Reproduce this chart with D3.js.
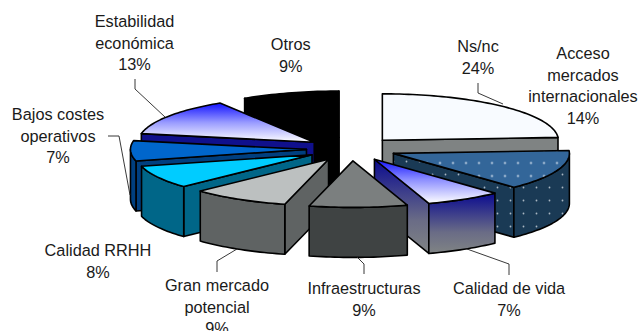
<!DOCTYPE html>
<html><head><meta charset="utf-8">
<script src="https://cdn.jsdelivr.net/npm/d3@7"></script>
<style>html,body{margin:0;padding:0;background:#fff;overflow:hidden}svg{display:block}</style>
</head><body><svg id="c" width="640" height="331"></svg>
<script>
// ---- data ----
const categories = ["Ns/nc","Acceso mercados internacionales","Calidad de vida","Infraestructuras","Gran mercado potencial","Calidad RRHH","Bajos costes operativos","Estabilidad económica","Otros"];
const values = [24,14,7,9,9,8,7,13,9];
const labelLines = [
  ["Ns/nc","24%"],
  ["Acceso","mercados","internacionales","14%"],
  ["Calidad de vida","7%"],
  ["Infraestructuras","9%"],
  ["Gran mercado","potencial","9%"],
  ["Calidad RRHH","8%"],
  ["Bajos costes","operativos","7%"],
  ["Estabilidad","económica","13%"],
  ["Otros","9%"]
];
// ---- layout & style ----
const labelAnchors = [[478,52],[583,59],[509,294],[364,294],[217,291],[98,256],[58,120],[134.5,27],[290.7,50]];
const leaders = [
  [[478,83],[478,93],[503,104]],
  null,
  [[509,275],[509,264],[467,249]],
  [[364,274],[364,264],[357,257]],
  [[217,272],[217,261],[237,249]],
  null,
  [[108,136],[119,136],[130,195]],
  [[135,79],[135,89],[165,117]],
  null
];
const topFills  = ["#f8fbff","url(#dotsTop)","url(#gVidaTop)","#7b7f7f","#bcc0c0","#00ccff","#0066cc","url(#gEstTop)","#000"];
const wallFills = ["#7f8383","url(#dotsWall)","url(#gVidaWall)","#3f4343","#5f6363","#006688","#003f7f","#10108c","#000"];

const cx=351.5, cy=149, rx=176, ry=46.5, depth=50, explode=0.256;
const x = d3.scaleLinear().domain([-1,1]).range([cx-rx,cx+rx]);
const y = d3.scaleLinear().domain([-1,1]).range([cy-ry,cy+ry]);

const svg = d3.select("#c");
const defs = svg.append("defs");
function grad(id, stops){
  const g = defs.append("linearGradient").attr("id",id).attr("x1",0).attr("y1",0).attr("x2",0).attr("y2",1);
  stops.forEach(s=>g.append("stop").attr("offset",s[0]).attr("stop-color",s[1]));
}
grad("gVidaTop",[[0,"#1010ff"],[0.45,"#8a8cff"],[1,"#ffffff"]]);
grad("gVidaWall",[[0,"#0a0a90"],[0.65,"#6a6c86"],[1,"#808484"]]);
grad("gEstTop",[[0,"#1212ff"],[0.5,"#9a9cff"],[1,"#ffffff"]]);
function dots(id,bg,dot,ox,oy){
  const p = defs.append("pattern").attr("id",id).attr("patternUnits","userSpaceOnUse").attr("width",13).attr("height",13).attr("x",ox).attr("y",oy);
  p.append("rect").attr("width",13).attr("height",13).attr("fill",bg);
  p.append("circle").attr("cx",6.5).attr("cy",6.5).attr("r",0.9).attr("fill",dot);
}
dots("dotsTop","#336699","#f4f8ff",4.5,0.5);
dots("dotsWall","#1a3a55","#a9b6c2",-3,-1);

const pie = d3.pie().sort(null).value(d=>d).startAngle(0).endAngle(2*Math.PI);
const arcs = pie(values).map((a,i)=>{
  const mid=(a.startAngle+a.endAngle)/2;
  return {i, a0:a.startAngle, a1:a.endAngle, mid, ox:Math.sin(mid)*explode, oy:-Math.cos(mid)*explode};
});
const P = (s,t,r,z=0)=>[x(s.ox+Math.sin(t)*r), y(s.oy-Math.cos(t)*r)+z];
const rim = (s,a0,a1,z=0)=>{
  const n=Math.max(2,Math.ceil((a1-a0)*40));
  return d3.range(n+1).map(k=>P(s,a0+(a1-a0)*k/n,1,z));
};
const line = d3.line();
const closed = pts=>line(pts)+"Z";

const order = arcs.slice().sort((p,q)=>(-Math.cos(p.mid))-(-Math.cos(q.mid)));
const pieG = svg.append("g").attr("stroke","#000").attr("stroke-width",1.6).attr("stroke-linejoin","round");
const H = Math.PI/2;
order.forEach(s=>{
  const g = pieG.append("g");
  const wall = wallFills[s.i];
  const apex = P(s,0,0), apexB = P(s,0,0,depth);
  if(Math.sin(s.a0)<0){
    const e=P(s,s.a0,1), eB=P(s,s.a0,1,depth);
    g.append("path").attr("d",closed([apex,e,eB,apexB])).attr("fill",wall);
  }
  if(Math.sin(s.a1)>0){
    const e=P(s,s.a1,1), eB=P(s,s.a1,1,depth);
    g.append("path").attr("d",closed([apex,e,eB,apexB])).attr("fill",wall);
  }
  const lo=Math.max(s.a0,H), hi=Math.min(s.a1,3*H);
  if(hi>lo){
    g.append("path").attr("d",closed(rim(s,lo,hi).concat(rim(s,lo,hi,depth).reverse()))).attr("fill",wall);
  }
  g.append("path").attr("d",closed([apex].concat(rim(s,s.a0,s.a1)))).attr("fill",topFills[s.i]);
});

svg.append("g").selectAll("path").data(leaders.filter(Boolean)).join("path")
  .attr("d",d=>line(d)).attr("fill","none").attr("stroke","#222").attr("stroke-width",0.9);

const lg = svg.append("g").attr("font-family","'Liberation Sans',Arial,sans-serif").attr("font-size",16.3).attr("fill","#1a1a1a").attr("text-anchor","middle");
labelLines.forEach((lines,i)=>{
  const t = lg.append("text").attr("data-category",categories[i]);
  lines.forEach((l,k)=>t.append("tspan").attr("x",labelAnchors[i][0]).attr("y",labelAnchors[i][1]+k*21.5).text(l));
});
</script></body></html>
